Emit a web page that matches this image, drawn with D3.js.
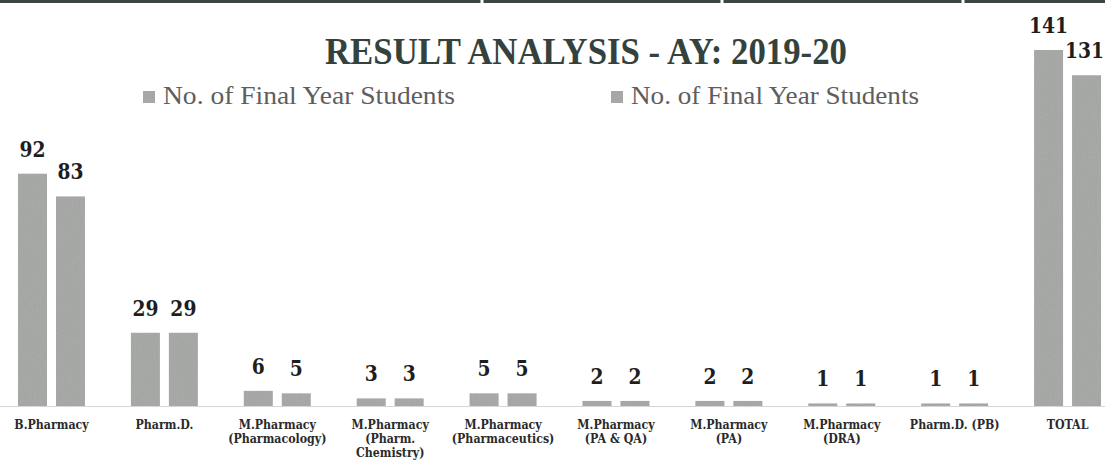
<!DOCTYPE html>
<html>
<head>
<meta charset="utf-8">
<script src="https://cdn.jsdelivr.net/npm/d3@7/dist/d3.min.js"></script>
<style>
  html, body { margin: 0; padding: 0; background: #fff; }
  svg { display: block; }
</style>
</head>
<body>
<svg id="chart" width="1105" height="461"></svg>
<script>
// ---- data ----
const categories = ["B.Pharmacy", "Pharm.D.", "M.Pharmacy (Pharmacology)", "M.Pharmacy (Pharm. Chemistry)",
  "M.Pharmacy (Pharmaceutics)", "M.Pharmacy (PA & QA)", "M.Pharmacy (PA)", "M.Pharmacy (DRA)", "Pharm.D. (PB)", "TOTAL"];
const categoryLines = [["B.Pharmacy"], ["Pharm.D."], ["M.Pharmacy", "(Pharmacology)"], ["M.Pharmacy", "(Pharm.", "Chemistry)"],
  ["M.Pharmacy", "(Pharmaceutics)"], ["M.Pharmacy", "(PA & QA)"], ["M.Pharmacy", "(PA)"], ["M.Pharmacy", "(DRA)"], ["Pharm.D. (PB)"], ["TOTAL"]];
const seriesNames = ["No. of Final Year Students", "No. of Final Year Students"];
const series1 = [92, 29, 6, 3, 5, 2, 2, 1, 1, 141];
const series2 = [83, 29, 5, 3, 5, 2, 2, 1, 1, 131];
const titleText = "RESULT ANALYSIS - AY: 2019-20";

const W = 1105;
const svg = d3.select("#chart");

// grain filter for scanned look
const defs = svg.append("defs");
const f = defs.append("filter").attr("id", "grain").attr("x", 0).attr("y", 0).attr("width", 1).attr("height", 1);
f.append("feTurbulence").attr("type", "fractalNoise").attr("baseFrequency", 0.9).attr("numOctaves", 1).attr("seed", 3).attr("result", "noise");
f.append("feColorMatrix").attr("in", "noise").attr("type", "matrix")
  .attr("values", "0 0 0 0 0.5  0 0 0 0 0.5  0 0 0 0 0.5  0.33 0.33 0.33 0 -0.35").attr("result", "n2");
f.append("feComposite").attr("in", "n2").attr("in2", "SourceGraphic").attr("operator", "in").attr("result", "n3");
f.append("feMerge").call(m => { m.append("feMergeNode").attr("in", "SourceGraphic"); m.append("feMergeNode").attr("in", "n3"); });

// top scan border
const topGaps = [482, 722, 963];
const topSegs = [0].concat(topGaps.map(g => g + 1.5));
const topEnds = topGaps.map(g => g - 1.5).concat([W]);
svg.selectAll("rect.topb").data(topSegs).join("rect").attr("class", "topb")
  .attr("x", d => d).attr("y", 0).attr("width", (d, i) => topEnds[i] - d).attr("height", 3).attr("fill", "#3c4642");

// scales
const x0 = d3.scaleBand().domain(categories).range([-4.95, 1124]).paddingInner(0.407).paddingOuter(0.2035);
const x1 = d3.scaleBand().domain([0, 1]).range([0, x0.bandwidth()]).paddingInner(0.237);
const y = d3.scaleLinear().domain([0, 141]).range([406, 50]);

// baseline axis
const axis = svg.append("g").attr("transform", `translate(0,${y(0)})`)
  .call(d3.axisBottom(x0).tickSize(0).tickFormat(""));
axis.select(".domain").attr("stroke", "#d6d6d6").attr("stroke-width", 1);

const data = categories.map((c, i) => ({ c, vals: [series1[i], series2[i]] }));

const groups = svg.append("g").selectAll("g").data(data).join("g")
  .attr("transform", d => `translate(${x0(d.c)},0)`);

groups.selectAll("rect").data(d => d.vals.map((v, k) => ({ v, k }))).join("rect")
  .attr("x", d => x1(d.k)).attr("width", x1.bandwidth())
  .attr("y", d => y(d.v)).attr("height", d => y(0) - y(d.v))
  .attr("fill", "#a2a4a2").attr("filter", "url(#grain)");

// value labels (kept inside the right edge)
const valSX = 0.85;
groups.each(function (d) {
  const g = d3.select(this);
  const gx = x0(d.c);
  d.vals.forEach((v, k) => {
    let cx = x1(k) + x1.bandwidth() / 2;
    const t = g.append("text")
      .attr("text-anchor", "middle")
      .attr("font-family", "DejaVu Serif").attr("font-weight", "bold").attr("font-size", 22)
      .attr("fill", "#1e1e1e").text(v);
    const half = t.node().getComputedTextLength() * valSX / 2;
    if (gx + cx + half > W - 1) cx = W - 1 - half - gx;
    t.attr("transform", `translate(${cx},${y(v) - 17}) scale(${valSX},1)`);
  });
});

// category labels
const labelG = svg.append("g").selectAll("g").data(categories).join("g")
  .attr("transform", (d) => `translate(${x0(d) + x0.bandwidth() / 2},0)`);
labelG.each(function (d, i) {
  const g = d3.select(this);
  categoryLines[i].forEach((line, j) => {
    g.append("text")
      .attr("transform", `translate(0,${429 + j * 14}) scale(0.92,1)`)
      .attr("text-anchor", "middle")
      .attr("font-family", "DejaVu Serif").attr("font-weight", "bold").attr("font-size", 12)
      .attr("fill", "#2a2a2a").text(line);
  });
});

// title
svg.append("text").attr("x", 325).attr("y", 64)
  .attr("textLength", 522).attr("lengthAdjust", "spacingAndGlyphs")
  .attr("font-family", "Liberation Serif").attr("font-weight", "bold").attr("font-size", 38)
  .attr("fill", "#34423d").text(titleText);

// legend
const legendX = [143, 611];
const legendTextW = [292, 288];
seriesNames.forEach((name, i) => {
  svg.append("rect").attr("x", legendX[i]).attr("y", 91).attr("width", 12).attr("height", 12)
    .attr("fill", "#a2a4a2").attr("filter", "url(#grain)");
  svg.append("text").attr("x", legendX[i] + 20).attr("y", 104)
    .attr("textLength", legendTextW[i]).attr("lengthAdjust", "spacingAndGlyphs")
    .attr("font-family", "Liberation Serif").attr("font-size", 25)
    .attr("fill", "#5e5e5e").text(name);
});
</script>
</body>
</html>
